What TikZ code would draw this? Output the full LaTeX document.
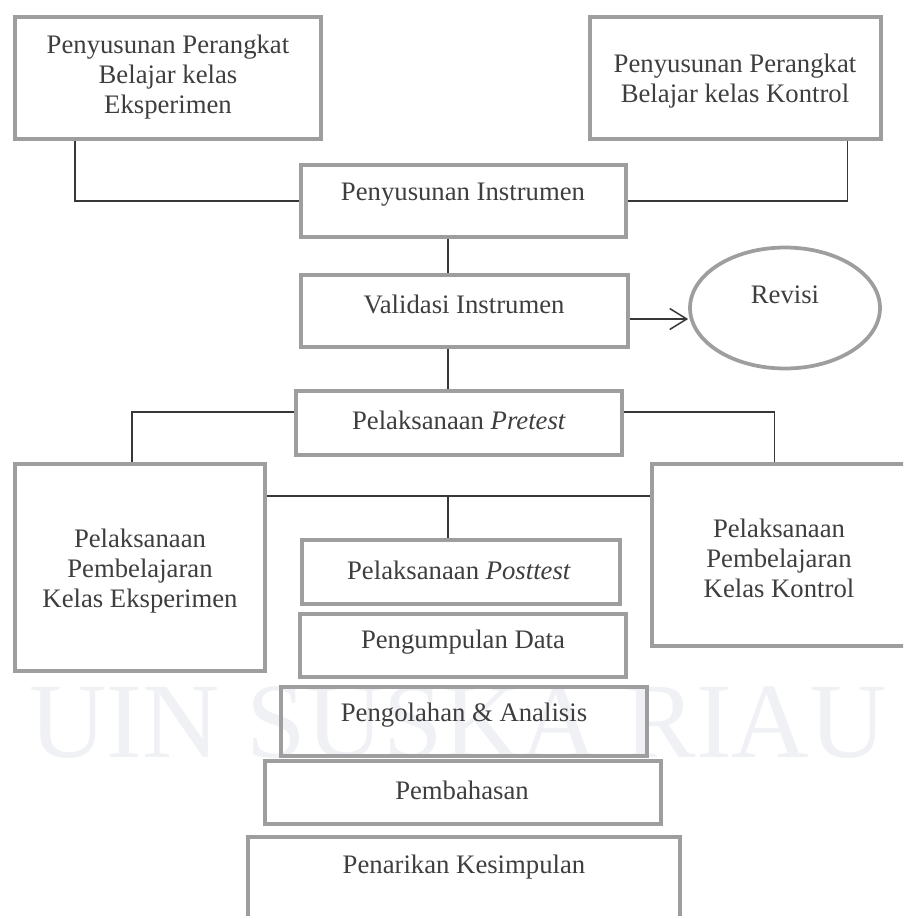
\documentclass[tikz,border=0pt]{standalone}
\usepackage{fontspec}
\setmainfont{Liberation Serif}
\usetikzlibrary{arrows.meta, fit, shapes.geometric, calc}
\definecolor{boxgray}{RGB}{158,158,158}
\definecolor{linegray}{RGB}{55,55,55}
\definecolor{textgray}{RGB}{62,62,62}
\definecolor{stampgray}{RGB}{240,241,245}

\begin{document}
\begin{tikzpicture}[
    x=0.02cm, y=-0.02cm,
    box/.style={rectangle, draw=boxgray, line width=0.075cm, inner sep=0pt},
    oval/.style={ellipse, draw=boxgray, line width=0.075cm, inner sep=0pt,
                 minimum width=3.8cm, minimum height=2.42cm},
    txt/.style={text=textgray, align=center, font=\fontsize{15.2}{17}\selectfont},
    conn/.style={draw=linegray, line width=0.026cm},
    arr/.style={conn, -{Straight Barb[length=0.34cm, width=0.42cm, line width=0.03cm]}},
]
    \useasboundingbox (0,0) rectangle (903,916);
    \clip (0,0) rectangle (903,916);

    % watermark
    \node[text=stampgray, font=\fontsize{61}{61}\selectfont, anchor=base] (stamp) at (458,757) {UIN SUSKA RIAU};

    \node[box, fit={(15,17) (321,139)}] (perEks) {};
    \node[box, fit={(590,17) (881,139)}] (perKon) {};
    \node[box, fit={(301,165) (626,237)}] (instr) {};
    \node[box, fit={(301,275) (628,347)}] (valid) {};
    \node[oval] (revisi) at (785,308) {};
    \node[box, fit={(296,391) (622,455)}] (pretest) {};
    \node[box, fit={(15,464) (265,671)}] (pe) {};
    \node[box, fit={(652,464) (940,646)}] (pk) {};
    \node[box, fit={(302,540) (620,604)}] (post) {};
    \node[box, fit={(300,614) (626,677)}] (kumpul) {};
    \node[box, fit={(281,687) (647,756)}] (olah) {};
    \node[box, fit={(265,761) (661,824)}] (bahas) {};
    \node[box, fit={(248,837) (680,940)}] (tarik) {};

    % Labels
    \node[txt] (tPerEks) at (168,77) {Penyusunan Perangkat\\Belajar kelas\\Eksperimen};
    \node[txt] (tPerKon) at (735,81) {Penyusunan Perangkat\\Belajar kelas Kontrol};
    \node[txt] (tInstr) at (463,195) {Penyusunan Instrumen};
    \node[txt] (tValid) at (464,304) {Validasi Instrumen};
    \node[txt] (tRevisi) at (785,295) {Revisi};
    \node[txt] (tPretest) at (459,420) {Pelaksanaan \textit{Pretest}};
    \node[txt] (tPe) at (140,571) {Pelaksanaan\\Pembelajaran\\Kelas Eksperimen};
    \node[txt] (tPk) at (779,558) {Pelaksanaan\\Pembelajaran\\Kelas Kontrol};
    \node[txt] (tPost) at (459,570) {Pelaksanaan \textit{Posttest}};
    \node[txt] (tKumpul) at (463,642) {Pengumpulan Data};
    \node[txt] (tOlah) at (464,715) {Pengolahan \& Analisis};
    \node[txt] (tBahas) at (462,790) {Pembahasan};
    \node[txt] (tTarik) at (464,867) {Penarikan Kesimpulan};

    \coordinate (spine) at (448,0);
    \coordinate (bar) at (448,496);
    \coordinate (vOut) at ([yshift=-0.16cm]valid.east);
    \coordinate (lTap) at ([yshift=0.22cm]pretest.west);
    \coordinate (rTap) at ([yshift=0.22cm]pretest.east);

    \draw[conn] ($(perEks.south west)!0.2!(perEks.south east)$) |- (instr.west);
    \draw[conn] ($(perKon.south west)!0.88!(perKon.south east)$) |- (instr.east);
    \draw[conn] (instr.south -| spine) -- (valid.north -| spine);
    \draw[conn] (valid.south -| spine) -- (pretest.north -| spine);
    \draw[arr] (vOut) -- (vOut -| revisi.west);
    \draw[conn] (lTap) -| ($(pe.north west)!0.468!(pe.north east)$);
    \draw[conn] (rTap) -| ($(pk.north west)!0.427!(pk.north east)$);
    \draw[conn] (pe.east |- bar) -- (pk.west |- bar);
    \draw[conn] (bar) -- (post.north -| bar);
\end{tikzpicture}
\end{document}
